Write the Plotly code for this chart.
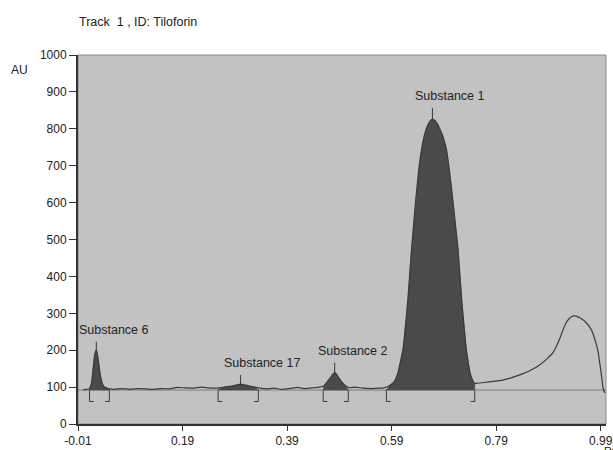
import plotly.graph_objects as go

# ---- data ----
rf_vals = [0.000, 0.006, 0.012, 0.016, 0.019, 0.022, 0.025, 0.027, 0.030, 0.033, 0.037, 0.041, 0.046, 0.050,
           0.060, 0.075, 0.090, 0.105, 0.120, 0.135, 0.150, 0.165, 0.180, 0.195, 0.210, 0.225, 0.240, 0.255,
           0.265, 0.275, 0.285, 0.295, 0.301, 0.308, 0.318, 0.328, 0.338, 0.350, 0.365, 0.380, 0.395, 0.410,
           0.425, 0.440, 0.452, 0.460, 0.467, 0.474, 0.481, 0.488, 0.495, 0.503, 0.510, 0.520, 0.535, 0.550,
           0.565, 0.575, 0.585, 0.595, 0.602, 0.607, 0.612, 0.616, 0.621, 0.628, 0.636, 0.642, 0.647, 0.653,
           0.658, 0.663, 0.668, 0.673, 0.678, 0.683, 0.687, 0.691, 0.695, 0.701, 0.707, 0.712, 0.717, 0.724,
           0.733, 0.740, 0.745, 0.749, 0.752, 0.775, 0.803, 0.835, 0.855, 0.873, 0.888, 0.898, 0.905, 0.912,
           0.918, 0.924, 0.933, 0.940, 0.950, 0.963, 0.972, 0.979, 0.985, 0.988, 0.991, 0.994, 0.996, 0.998]
au_vals = [93, 94, 96, 112, 150, 188, 200, 190, 160, 130, 108, 100, 97, 95,
           94, 96, 94, 96, 95, 94, 96, 95, 99, 98, 97, 100, 98, 97,
           99, 101, 103, 106, 108, 106, 103, 100, 97, 95, 97, 94, 96, 99,
           96, 98, 100, 103, 115, 128, 140, 127, 113, 102, 98, 100, 97, 96,
           97, 98, 103, 115, 138, 170, 205, 260, 336, 472, 607, 690, 742, 785,
           806, 820, 826, 822, 812, 797, 783, 765, 742, 680, 607, 540, 472, 336,
           200, 138, 118, 110, 110, 114, 119, 133, 145, 160, 178, 192, 210, 233,
           256, 275, 290, 293, 288, 273, 255, 228, 195, 165, 135, 101, 90, 84]

baseline_au = 92
bracket_bottom_au = 61

peak_names = ["Substance 6", "Substance 17", "Substance 2", "Substance 1"]
peak_rf = [0.025, 0.301, 0.481, 0.668]
peak_au = [200, 108, 140, 826]
marker_top_au = [223, 133, 166, 856]
bracket_start = [0.012, 0.258, 0.459, 0.580]
bracket_end = [0.050, 0.335, 0.507, 0.749]

x_ticks = [-0.01, 0.19, 0.39, 0.59, 0.79, 0.99]
x_tick_labels = ["-0.01", "0.19", "0.39", "0.59", "0.79", "0.99"]
y_ticks = [0, 100, 200, 300, 400, 500, 600, 700, 800, 900, 1000]

FONT = "Arial, Liberation Sans, sans-serif"
FILL = "#4a4a4a"
LINE = "#3a3a3a"

fig = go.Figure()

# baseline
fig.add_trace(go.Scatter(x=[-0.01, 1.0], y=[baseline_au, baseline_au], mode="lines",
                         line=dict(color="#7d7d7d", width=1), hoverinfo="skip"))

# filled peak areas (curve segment down to baseline)
for s, e in zip(bracket_start, bracket_end):
    seg = [(r, a) for r, a in zip(rf_vals, au_vals) if s <= r <= e]
    xs = [s] + [p[0] for p in seg] + [e, e, s]
    ys = [baseline_au] + [p[1] for p in seg] + [baseline_au, baseline_au, baseline_au]
    fig.add_trace(go.Scatter(x=xs, y=ys, mode="lines", fill="toself", fillcolor=FILL,
                             line=dict(color=FILL, width=0.5), hoverinfo="skip"))

# densitogram curve
fig.add_trace(go.Scatter(x=rf_vals, y=au_vals, mode="lines", line_shape="spline",
                         line=dict(color=LINE, width=1.2, smoothing=0.5), hoverinfo="skip"))

# peak markers
for r, a, t in zip(peak_rf, peak_au, marker_top_au):
    fig.add_trace(go.Scatter(x=[r, r], y=[a, t], mode="lines",
                             line=dict(color=LINE, width=1), hoverinfo="skip"))

# integration brackets
foot = 0.008
for s, e in zip(bracket_start, bracket_end):
    fig.add_trace(go.Scatter(x=[s + foot, s, s], y=[bracket_bottom_au, bracket_bottom_au, baseline_au],
                             mode="lines", line=dict(color=LINE, width=1), hoverinfo="skip"))
    fig.add_trace(go.Scatter(x=[e - foot, e, e], y=[bracket_bottom_au, bracket_bottom_au, baseline_au],
                             mode="lines", line=dict(color=LINE, width=1), hoverinfo="skip"))

annotations = []
for name, r, t in zip(peak_names, peak_rf, marker_top_au):
    annotations.append(dict(x=r, y=t, xref="x", yref="y", text=name, showarrow=False,
                            xanchor="left", yanchor="middle", xshift=-19, yshift=12,
                            font=dict(family=FONT, size=12.5, color="#222")))

annotations += [
    dict(x=-0.002, y=1.089, xref="paper", yref="paper", text="Track  1 , ID: Tiloforin", showarrow=False,
         xanchor="left", yanchor="middle", font=dict(family=FONT, size=12.5, color="#222")),
    dict(x=-0.11, y=0.959, xref="paper", yref="paper", text="AU", showarrow=False,
         xanchor="center", yanchor="middle", font=dict(family=FONT, size=12, color="#222")),
    dict(x=0.992, y=-0.052, xref="paper", yref="paper", text="Rf", showarrow=False,
         xanchor="left", yanchor="top", font=dict(family=FONT, size=11, color="#222")),
]

fig.update_layout(
    width=613, height=450,
    margin=dict(l=78, r=7, t=55, b=26, autoexpand=False),
    paper_bgcolor="white",
    plot_bgcolor="#c2c2c2",
    showlegend=False,
    annotations=annotations,
    shapes=[dict(type="rect", xref="paper", yref="paper", x0=0, y0=0, x1=1, y1=1,
                 line=dict(color="#8a8a8a", width=1), layer="below")],
    font=dict(family=FONT, size=12, color="#222"),
)
fig.update_xaxes(range=[-0.01, 1.0], tickvals=x_ticks, ticktext=x_tick_labels, automargin=False,
                 ticklabeloverflow="allow",
                 showgrid=False, zeroline=False, showline=True, linecolor="#333", linewidth=2,
                 ticks="outside", ticklen=5, tickcolor="#333", tickfont=dict(family=FONT, size=12, color="#222"))
fig.update_yaxes(range=[0, 1000], tickvals=y_ticks, automargin=False,
                 showgrid=False, zeroline=False, showline=True, linecolor="#333", linewidth=2,
                 ticks="outside", ticklen=7, tickcolor="#333", tickfont=dict(family=FONT, size=12, color="#222"))

# remove the default page margin so the figure fills the 613x450 window exactly
fig.write_html("out.html", config={"displayModeBar": False},
               post_script="document.body.style.margin='0';document.body.style.overflow='hidden';")
